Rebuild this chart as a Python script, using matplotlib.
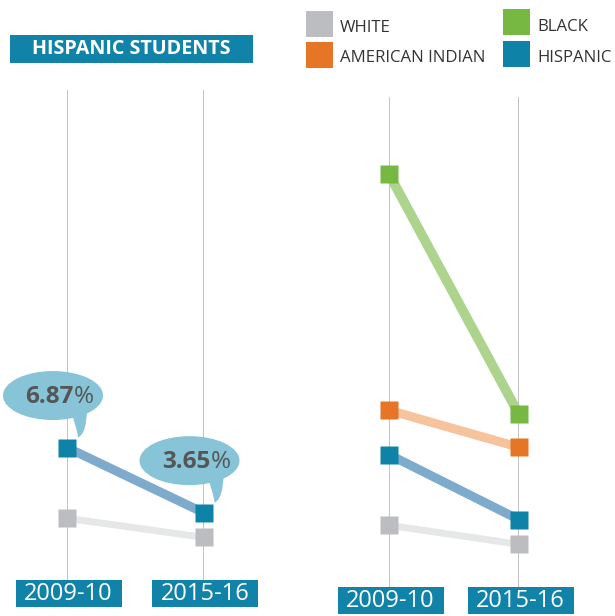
import matplotlib
matplotlib.use("Agg")
import matplotlib.pyplot as plt
from matplotlib.patches import Rectangle, Ellipse, PathPatch
from matplotlib.path import Path

plt.rcParams['font.family'] = ['Open Sans', 'DejaVu Sans']

# ---------------- data ----------------
periods = ["2009-10", "2015-16"]
groups = ["WHITE", "AMERICAN INDIAN", "BLACK", "HISPANIC"]
white = [3.37, 2.43]
american_indian = [9.06, 7.23]
black = [20.74, 8.85]
hispanic = [6.87, 3.65]
title = "HISPANIC STUDENTS"

# ---------------- styles ----------------
marker_col = {"WHITE": "#bcbdc0", "AMERICAN INDIAN": "#e67625",
              "BLACK": "#77b843", "HISPANIC": "#0f82a8"}
line_col = {"WHITE": "#e6e7e8", "AMERICAN INDIAN": "#f6c39c",
            "BLACK": "#acd48c", "HISPANIC": "#7eaacb"}
line_w = {"WHITE": 5.0, "AMERICAN INDIAN": 6.5, "BLACK": 7.0, "HISPANIC": 6.5}
teal = "#1283a8"
bubble_col = "#88c4d7"

W, H = 615, 616
fig = plt.figure(figsize=(W / 100, H / 100), dpi=100)
fig.patch.set_facecolor("white")

ylim = (0.32, 24.55)


def make_axes(x0, x1, ytop, ybot):
    ax = fig.add_axes([x0 / W, (H - ybot) / H, (x1 - x0) / W, (ybot - ytop) / H])
    ax.set_xlim(0, 1)
    ax.set_ylim(*ylim)
    ax.axis("off")
    for xx in range(len(periods)):
        ax.axvline(xx, color="#b8b8b8", lw=1.2, zorder=1)
    return ax


axL = make_axes(67, 203.5, 90, 580)
axR = make_axes(389, 519, 97, 587)


def plot_series(ax, name, vals):
    xs = list(range(len(periods)))
    ax.plot(xs, vals, color=line_col[name], lw=line_w[name],
            solid_capstyle="butt", zorder=2, clip_on=False)
    ax.plot(xs, vals, ls="none", marker="s", ms=12.3, color=marker_col[name],
            mec="none", zorder=3, clip_on=False)


plot_series(axL, "WHITE", white)
plot_series(axL, "HISPANIC", hispanic)

series = {"WHITE": white, "AMERICAN INDIAN": american_indian,
          "BLACK": black, "HISPANIC": hispanic}
for name in ["WHITE", "HISPANIC", "AMERICAN INDIAN", "BLACK"]:
    plot_series(axR, name, series[name])

# overlay in pixel coordinates for decorations
ov = fig.add_axes([0, 0, 1, 1], zorder=10)
ov.set_xlim(0, W)
ov.set_ylim(H, 0)
ov.axis("off")
ov.patch.set_alpha(0)


def to_px(ax, x, v):
    X, Y = ax.transData.transform((x, v))
    return X, H - Y


# title box
ov.add_patch(Rectangle((10, 35), 243, 28, color=teal, lw=0))
ov.text(131, 49.5, title, color="white", fontsize=14.2, fontweight="bold",
        ha="center", va="center")

# period boxes
for ax, ytop in [(axL, 580), (axR, 587)]:
    for i, p in enumerate(periods):
        px, _ = to_px(ax, i, 0)
        ov.add_patch(Rectangle((px - 53 + 1.5, ytop), 106, 27, color=teal, lw=0))
        ov.text(px + 1.5, ytop + 14, p, color="white", fontsize=17,
                ha="center", va="center")

# legend
leg_pos = {"WHITE": (306, 11), "AMERICAN INDIAN": (306, 42),
           "BLACK": (503, 9), "HISPANIC": (503, 41)}
leg_text_y = {"WHITE": 28, "AMERICAN INDIAN": 57.5, "BLACK": 27, "HISPANIC": 57.5}
for g in groups:
    x, y = leg_pos[g]
    ov.add_patch(Rectangle((x, y), 27, 26, color=marker_col[g], lw=0))
    ov.text(x + 34, leg_text_y[g], g, color="#333333", fontsize=12.1, ha="left",
            va="center")

# speech bubbles with values
for i, v in enumerate(hispanic):
    mx, my = to_px(axL, i, v)
    cx, cy = mx - 14, my - 52
    w, h = 100, 49
    tipx, tipy = mx + 11, my - 10
    ov.add_patch(Ellipse((cx, cy), w, h, color=bubble_col, lw=0))
    verts = [(cx + 17, cy + 14), (tipx - 1, tipy - 10), (tipx, tipy),
             (tipx + 9, tipy - 4), (tipx + 9, cy + 12), (cx + 17, cy + 14)]
    codes = [Path.MOVETO, Path.CURVE3, Path.CURVE3, Path.CURVE3, Path.CURVE3,
             Path.CLOSEPOLY]
    ov.add_patch(PathPatch(Path(verts, codes), color=bubble_col, lw=0))
    ov.text(cx + 21, cy + 1, f"{v:.2f}", color="#555555", fontsize=17.5,
            fontweight="bold", ha="right", va="center")
    ov.text(cx + 21, cy + 1, "%", color="#555555", fontsize=17.5,
            ha="left", va="center")

fig.savefig("out.png", dpi=100, facecolor="white")
